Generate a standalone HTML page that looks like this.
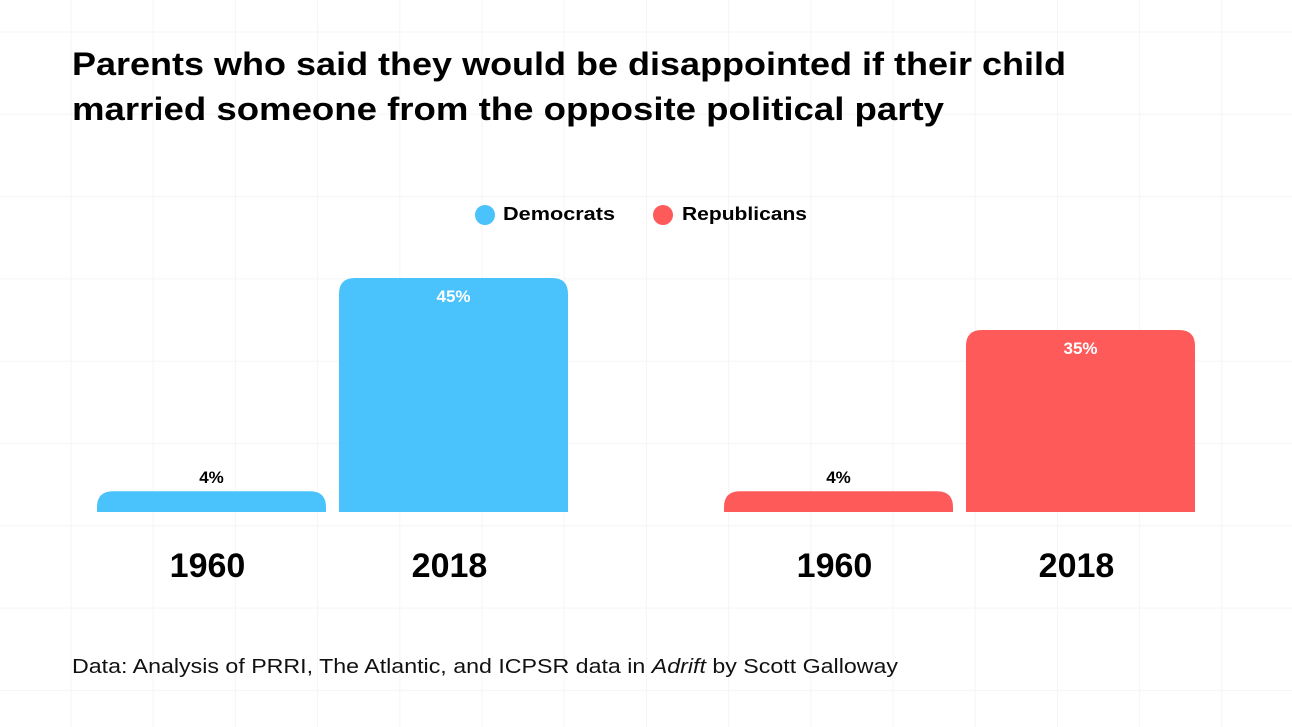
<!DOCTYPE html>
<html><head><meta charset="utf-8"><style>
html,body{margin:0;padding:0;background:#fff}
svg{display:block;font-family:"Liberation Sans",sans-serif}
</style></head><body>
<svg id="c" width="1292" height="727">
<g id="grid"></g>
<text x="72" y="75" font-size="32" font-weight="bold" fill="#000" textLength="994" lengthAdjust="spacingAndGlyphs">Parents who said they would be disappointed if their child</text>
<text x="72" y="120" font-size="32" font-weight="bold" fill="#000" textLength="872" lengthAdjust="spacingAndGlyphs">married someone from the opposite political party</text>
<g>
<circle cx="485" cy="215" r="10" fill="#4AC3FD"/>
<text x="503" y="220" font-size="18" font-weight="bold" textLength="112" lengthAdjust="spacingAndGlyphs">Democrats</text>
<circle cx="663" cy="215" r="10" fill="#FF5A5A"/>
<text x="682" y="220" font-size="18" font-weight="bold" textLength="125" lengthAdjust="spacingAndGlyphs">Republicans</text>
</g>
<g id="bars"></g>
<text x="72" y="673" font-size="20" fill="#111" textLength="826" lengthAdjust="spacingAndGlyphs">Data: Analysis of PRRI, The Atlantic, and ICPSR data in <tspan font-style="italic">Adrift</tspan> by Scott Galloway</text>
</svg>
<script>
const groups=['Democrats','Democrats','Republicans','Republicans'];
const years=['1960','2018','1960','2018'];
const values=[4,45,4,35];
const NS='http://www.w3.org/2000/svg';
const svg=document.getElementById('c');
const grid=document.getElementById('grid');
for(let i=0;i<16;i++){const x=71+i*82.2;const l=document.createElementNS(NS,'line');l.setAttribute('x1',x);l.setAttribute('x2',x);l.setAttribute('y1',0);l.setAttribute('y2',727);l.setAttribute('stroke','#f5f5f5');l.setAttribute('stroke-width','1');


grid.appendChild(l);}
for(let i=0;i<9;i++){const y=32+i*82.3;const l=document.createElementNS(NS,'line');l.setAttribute('x1',0);l.setAttribute('x2',1292);l.setAttribute('y1',y);l.setAttribute('y2',y);l.setAttribute('stroke','#f5f5f5');l.setAttribute('stroke-width','1');


grid.appendChild(l);}
const base=512, pxPer=5.2, barW=229;
const xs=[97,339,724,966];
const colors={Democrats:'#4AC3FD',Republicans:'#FF5A5A'};
const bars=document.getElementById('bars');
function yScale(v){return base-v*pxPer;}
values.forEach((v,i)=>{
  const x=xs[i],y=yScale(v),h=base-y,r=Math.min(16,h);
  const p=document.createElementNS(NS,'path');
  p.setAttribute('d',`M${x},${base}V${y+r}Q${x},${y} ${x+r},${y}H${x+barW-r}Q${x+barW},${y} ${x+barW},${y+r}V${base}Z`);
  p.setAttribute('fill',colors[groups[i]]);
  
  
  bars.appendChild(p);
  const t=document.createElementNS(NS,'text');
  const inside=h>40;
  t.setAttribute('x',x+barW/2);t.setAttribute('y',inside?y+24:y-8);
  t.setAttribute('text-anchor','middle');t.setAttribute('font-size','17');t.setAttribute('font-weight','bold');
  t.setAttribute('fill',inside?'#fff':'#000');
  t.textContent=v+'%';
  
  
  bars.appendChild(t);
  const yl=document.createElementNS(NS,'text');
  yl.setAttribute('x',x+barW/2-4);yl.setAttribute('y',577);
  yl.setAttribute('text-anchor','middle');yl.setAttribute('font-size','34');yl.setAttribute('font-weight','bold');
  yl.textContent=years[i];
  
  
  bars.appendChild(yl);
});
</script>
</body></html>
